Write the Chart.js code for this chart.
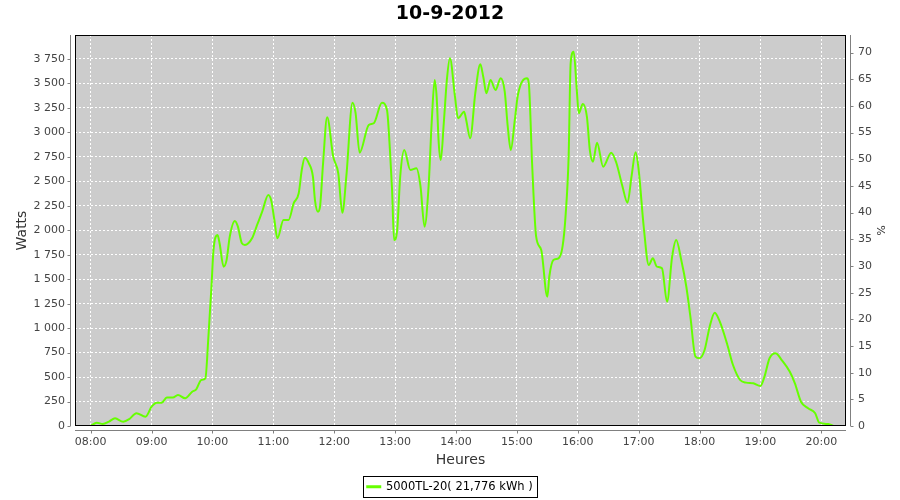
<!DOCTYPE html>
<html>
<head>
<meta charset="utf-8">
<script src="https://cdn.jsdelivr.net/npm/chart.js@4/dist/chart.umd.min.js"></script>
<style>
  html, body { margin: 0; padding: 0; background: #fff; }
  #wrap { width: 900px; height: 500px; }
</style>
</head>
<body>
<div id="wrap"><canvas id="chart1" width="900" height="500"></canvas></div>
<script>
var chartTitle = '10-9-2012';
var seriesName = '5000TL-20( 21,776 kWh )';

var times = [
	'08:00','08:06','08:12','08:18','08:24','08:32','08:38','08:45','08:54','09:00',
	'09:05','09:10','09:15','09:21','09:26','09:33','09:40','09:44','09:49','09:53',
	'09:56','09:59','10:01','10:05','10:07','10:11','10:14','10:17','10:22','10:25',
	'10:29','10:32','10:39','10:44','10:49','10:55','10:58','11:01','11:04','11:10',
	'11:15','11:20','11:25','11:28','11:31','11:35','11:39','11:41','11:44','11:46',
	'11:49','11:53','11:59','12:04','12:08','12:12','12:18','12:21','12:25','12:34',
	'12:39','12:47','12:52','12:55','12:57','12:59','13:02','13:05','13:09','13:15',
	'13:21','13:25','13:29','13:33','13:36','13:39','13:41','13:43','13:45','13:48',
	'13:51','13:54','13:59','14:02','14:08','14:10','14:14','14:19','14:24','14:27',
	'14:30','14:34','14:39','14:44','14:48','14:51','14:54','14:58','15:01','15:10',
	'15:12','15:15','15:19','15:24','15:30','15:32','15:36','15:41','15:45','15:48',
	'15:51','15:53','15:56','15:59','16:01','16:05','16:09','16:12','16:15','16:19',
	'16:25','16:33','16:38','16:44','16:49','16:53','16:57','17:00','17:05','17:10',
	'17:14','17:18','17:23','17:28','17:33','17:37','17:42','17:47','17:51','17:56',
	'18:00','18:05','18:10','18:15','18:20','18:27','18:33','18:40','18:46','18:53',
	'19:00','19:04','19:09','19:15','19:21','19:29','19:34','19:40','19:47','19:54',
	'19:58','20:07','20:12'
];

var watts = [
	0, 34, 20, 45, 78, 44, 70, 130, 95, 197,
	238, 238, 290, 290, 317, 283, 350, 375, 470, 487,
	912, 1423, 1798, 1952, 1867, 1628, 1700, 1934, 2095, 2040,
	1867, 1850, 1918, 2054, 2190, 2360, 2300, 2105, 1918, 2105,
	2105, 2275, 2378, 2616, 2742, 2684, 2547, 2309, 2190, 2241,
	2684, 3154, 2752, 2582, 2180, 2560, 3303, 3200, 2793, 3075,
	3093, 3303, 3229, 2800, 2411, 1900, 2000, 2547, 2820, 2616,
	2633, 2450, 2036, 2450, 3093, 3535, 3350, 2888, 2718, 3100,
	3535, 3757, 3365, 3144, 3212, 3130, 2940, 3400, 3695, 3560,
	3400, 3535, 3433, 3553, 3420, 3060, 2820, 3130, 3382, 3553,
	3470, 2684, 1934, 1798, 1321, 1530, 1696, 1713, 1832, 2150,
	2752, 3706, 3825, 3440, 3195, 3290, 3160, 2810, 2701, 2895,
	2650, 2793, 2690, 2450, 2282, 2550, 2797, 2620, 2036, 1645,
	1713, 1628, 1611, 1270, 1730, 1900, 1696, 1423, 1117, 708,
	692, 776, 1015, 1158, 1066, 845, 623, 470, 443, 436,
	409, 504, 692, 743, 674, 555, 436, 248, 181, 130,
	34, 20, 0
];

var hourLabels = ['08:00','09:00','10:00','11:00','12:00','13:00','14:00','15:00','16:00','17:00','18:00','19:00','20:00'];
var wattTicks = [0, 250, 500, 750, 1000, 1250, 1500, 1750, 2000, 2250, 2500, 2750, 3000, 3250, 3500, 3750];
var pctTicks = [0, 5, 10, 15, 20, 25, 30, 35, 40, 45, 50, 55, 60, 65, 70];

function toHours(s) {
	var p = s.split(':');
	return parseInt(p[0], 10) + parseInt(p[1], 10) / 60;
}

function frNumber(v) {
	return String(v).replace(/\B(?=(\d{3})+(?!\d))/g, ' ');
}

function asTicks(arr) {
	return arr.map(function(v) { return { value: v }; });
}

var points = times.map(function(t, i) {
	return { x: toHours(t), y: watts[i] };
});

var gridWhite = {
	color: '#ffffff',
	lineWidth: 1,
	tickLength: 8,
	tickColor: 'rgba(0,0,0,0)'
};

// plot background, offset axis lines, tick marks and legend frame
var frame = {
	id: 'frame',
	beforeDraw: function(chart) {
		var ctx = chart.ctx, a = chart.chartArea;
		ctx.save();
		ctx.fillStyle = '#cccccc';
		ctx.fillRect(a.left, a.top, a.right - a.left, a.bottom - a.top);
		ctx.restore();
	},
	afterDraw: function(chart) {
		var ctx = chart.ctx, a = chart.chartArea, s = chart.scales;
		ctx.save();
		ctx.strokeStyle = '#808080';
		ctx.lineWidth = 1;
		ctx.beginPath();
		var lx = a.left - 4.5;
		ctx.moveTo(lx, a.top); ctx.lineTo(lx, a.bottom);
		s.y.ticks.forEach(function(t) {
			var py = Math.round(s.y.getPixelForValue(t.value)) + 0.5;
			ctx.moveTo(lx - 3, py); ctx.lineTo(lx, py);
		});
		var rx = a.right + 4.5;
		ctx.moveTo(rx, a.top); ctx.lineTo(rx, a.bottom);
		s.y1.ticks.forEach(function(t) {
			var py = Math.round(s.y1.getPixelForValue(t.value)) + 0.5;
			ctx.moveTo(rx, py); ctx.lineTo(rx + 3, py);
		});
		var by = a.bottom + 4.5;
		ctx.moveTo(a.left, by); ctx.lineTo(a.right, by);
		s.x.ticks.forEach(function(t) {
			var px = Math.round(s.x.getPixelForValue(t.value)) + 0.5;
			ctx.moveTo(px, by); ctx.lineTo(px, by + 3);
		});
		ctx.stroke();

		ctx.strokeStyle = '#000000';
		ctx.strokeRect(a.left + 0.5, a.top + 0.5, a.right - a.left - 1, a.bottom - a.top - 1);

		var hb = chart.legend.legendHitBoxes[0];
		if (hb) {
			ctx.strokeRect(Math.round(hb.left) - 3.5, Math.round(hb.top) - 4.5,
				Math.round(hb.width) + 8, Math.round(hb.height) + 9);
		}
		ctx.restore();
	}
};

Chart.defaults.font.family = '"DejaVu Sans", sans-serif';
Chart.defaults.font.size = 11;
Chart.defaults.color = '#444444';

var ctx = document.getElementById('chart1').getContext('2d');
var chart1 = new Chart(ctx, {
	type: 'line',
	data: {
		datasets: [{
			label: seriesName,
			data: points,
			borderColor: '#66ff00',
			backgroundColor: '#66ff00',
			borderWidth: 2,
			pointRadius: 0,
			fill: false,
			cubicInterpolationMode: 'monotone',
			yAxisID: 'y'
		}]
	},
	options: {
		responsive: false,
		animation: false,
		layout: { padding: 0 },
		plugins: {
			tooltip: { enabled: false },
			title: {
				display: true,
				text: chartTitle,
				color: '#000000',
				font: { size: 19, weight: 'bold' },
				padding: { top: 3, bottom: 9.2 }
			},
			legend: {
				display: true,
				position: 'bottom',
				maxHeight: 19,
				labels: {
					color: '#000000',
					font: { size: 11.5 },
					boxWidth: 13,
					boxHeight: 1,
					padding: 0
				}
			}
		},
		scales: {
			x: {
				type: 'linear',
				min: 7.742,
				max: 20.406,
				afterBuildTicks: function(scale) {
					scale.ticks = asTicks(hourLabels.map(toHours));
				},
				afterFit: function(scale) { scale.height = 55; },
				ticks: {
					padding: 2,
					maxRotation: 0,
					autoSkip: false,
					callback: function(v) {
						var h = Math.round(v);
						return (h < 10 ? '0' : '') + h + ':00';
					}
				},
				grid: gridWhite,
				border: { display: false, dash: [2, 2] },
				title: {
					display: true,
					text: 'Heures',
					color: '#333333',
					font: { size: 14 },
					padding: { top: 12.6, bottom: 12.6 }
				}
			},
			y: {
				position: 'left',
				min: 0,
				max: 3995,
				afterBuildTicks: function(scale) {
					scale.ticks = asTicks(wattTicks);
				},
				afterFit: function(scale) { scale.width = 75; },
				ticks: {
					padding: 2,
					autoSkip: false,
					callback: function(v) { return frNumber(v); }
				},
				grid: gridWhite,
				border: { display: false, dash: [2, 2] },
				title: {
					display: true,
					text: 'Watts',
					color: '#333333',
					font: { size: 14 },
					padding: { top: 13.6, bottom: 13.6 }
				}
			},
			y1: {
				position: 'right',
				min: 0,
				max: 73.3,
				afterBuildTicks: function(scale) {
					scale.ticks = asTicks(pctTicks);
				},
				afterFit: function(scale) { scale.width = 54; },
				ticks: {
					padding: 3,
					autoSkip: false
				},
				grid: {
					drawOnChartArea: false,
					tickLength: 9,
					tickColor: 'rgba(0,0,0,0)'
				},
				border: { display: false },
				title: {
					display: true,
					text: '%',
					color: '#333333',
					font: { size: 11 },
					padding: { top: 13.4, bottom: 13.4 }
				}
			}
		}
	},
	plugins: [frame]
});
</script>
</body>
</html>
